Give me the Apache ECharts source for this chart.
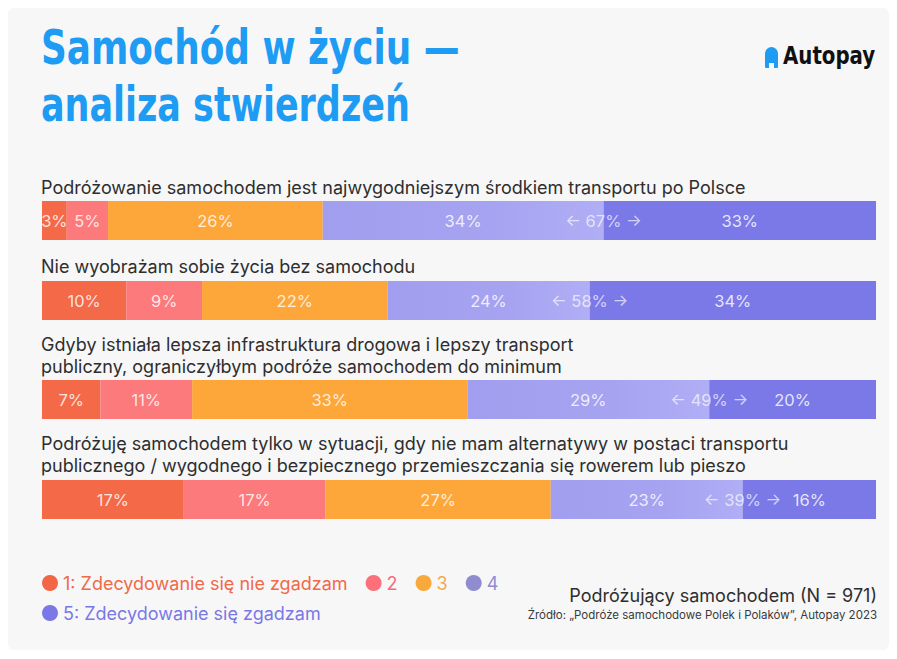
<!DOCTYPE html>
<html>
<head>
<meta charset="utf-8">
<script src="https://cdn.jsdelivr.net/npm/echarts@6/dist/echarts.min.js"></script>
<style>
  html, body { margin: 0; padding: 0; background: #fff; }
  #chart { width: 897px; height: 659px; }
</style>
</head>
<body>
<div id="chart"></div>
<script>
// Samochód w życiu — odpowiedzi na skali 1..5, każdy wiersz to osobna siatka (100% szerokości)
const questions = [
  'Podróżowanie samochodem jest najwygodniejszym środkiem transportu po Polsce',
  'Nie wyobrażam sobie życia bez samochodu',
  'Gdyby istniała lepsza infrastruktura drogowa i lepszy transport\npubliczny, ograniczyłbym podróże samochodem do minimum',
  'Podróżuję samochodem tylko w sytuacji, gdy nie mam alternatywy w postaci transportu\npublicznego / wygodnego i bezpiecznego przemieszczania się rowerem lub pieszo'
]
const levels = ['1: Zdecydowanie się nie zgadzam', '2', '3', '4', '5: Zdecydowanie się zgadzam']
const level1 = [3, 10, 7, 17]
const level2 = [5, 9, 11, 17]
const level3 = [26, 22, 33, 27]
const level4 = [34, 24, 29, 23]
const level5 = [33, 34, 20, 16]
const topTwo = [67, 58, 49, 39]

const values = [level1, level2, level3, level4, level5]
const barColors = ['#f46a49', '#fd7a7c', '#fda63a', '#a4a1f0', '#7b79e8']
const legendDot = ['#f36645', '#fc7179', '#f9a83a', '#8f8dd0', '#7a78e7']
const legendText = ['#f06a47', '#f56c78', '#f0aa4a', '#8e8ccf', '#7a78e6']

const barTops = [201, 281, 380, 480]
const qTops = [177, 256, 334, 433]
const FONT = 'Inter, "Noto Sans", sans-serif'
const NARROW = '"DejaVu Sans Condensed", "DejaVu Sans", sans-serif'

const chart = echarts.init(document.getElementById('chart'), null, { renderer: 'svg' })

const series = []
values.forEach((vals, k) => {
  vals.forEach((v, i) => {
    series.push({
      name: levels[k],
      type: 'bar',
      xAxisIndex: i,
      yAxisIndex: i,
      stack: 'row' + i,
      barCategoryGap: 0,
      data: [v],
      itemStyle: {
        color: k === 3
          ? new echarts.graphic.LinearGradient(0, 0, 1, 0, [
              { offset: 0, color: '#a19eef' },
              { offset: 0.6, color: '#a6a3f1' },
              { offset: 1, color: '#b0aef5' }
            ])
          : barColors[k]
      },
      label: {
        show: true,
        position: 'inside',
        formatter: '{c}%',
        color: 'rgba(255,255,255,0.82)',
        fontSize: 16.5,
        fontFamily: FONT
      },
      emphasis: { disabled: true }
    })
  })
})

// etykieta "← 67% →" na granicy 4/5
topTwo.forEach((t, i) => {
  series.push({
    type: 'scatter',
    xAxisIndex: i,
    yAxisIndex: i,
    symbolSize: 0,
    data: [[level1[i] + level2[i] + level3[i] + level4[i], 0]],
    label: {
      show: true,
      position: 'inside',
      formatter: '← ' + t + '% →',
      color: 'rgba(255,255,255,0.85)',
      fontSize: 16.5,
      fontFamily: FONT
    },
    z: 5,
    silent: true
  })
})

chart.setOption({
  backgroundColor: 'transparent',
  animation: false,
  graphic: [
    { type: 'rect', shape: { x: 8, y: 8, width: 881, height: 642, r: 6 }, style: { fill: '#f7f7f8' }, z: -10 },
    { type: 'rect', shape: { x: 765, y: 47, width: 13, height: 21, r: [7, 7, 1, 1] }, style: { fill: '#1e9bf2' } },
    { type: 'rect', shape: { x: 769, y: 63, width: 5, height: 5 }, style: { fill: '#f7f7f8' } },
    {
      type: 'text', x: 41, y: 23, scaleX: 0.83,
      style: { text: 'Samochód w życiu —', fill: '#1e9bf2', font: 'bold 48px ' + NARROW }
    },
    {
      type: 'text', x: 41, y: 80, scaleX: 0.81,
      style: { text: 'analiza stwierdzeń', fill: '#1e9bf2', font: 'bold 48px ' + NARROW }
    },
    {
      type: 'text', x: 783, y: 43, scaleX: 0.88,
      style: { text: 'Autopay', fill: '#111', font: 'bold 25px ' + NARROW }
    }
  ],
  title: [
    ...questions.map((q, i) => ({
      text: q,
      left: 41, top: qTops[i], padding: 0,
      textStyle: { fontSize: 18, fontWeight: 'normal', fontFamily: FONT, color: '#2e2e2e', lineHeight: 21.5 }
    })),
    {
      text: 'Podróżujący samochodem (N = 971)',
      right: 20, top: 586, padding: 0,
      textStyle: { fontSize: 18, fontWeight: 'normal', fontFamily: FONT, color: '#2e2e2e' }
    },
    {
      text: 'Źródło: „Podróże samochodowe Polek i Polaków”, Autopay 2023',
      right: 20, top: 609, padding: 0,
      textStyle: { fontSize: 11.5, fontWeight: 'normal', fontFamily: FONT, color: '#3a3a3a' }
    }
  ],
  legend: [
    {
      data: levels.slice(0, 4).map((n, k) => ({ name: n, itemStyle: { color: legendDot[k] }, textStyle: { color: legendText[k] } })),
      left: 42, top: 574, padding: 0,
      icon: 'circle', itemWidth: 16, itemHeight: 16, itemGap: 18,
      textStyle: { fontSize: 18, fontFamily: FONT },
      selectedMode: false
    },
    {
      data: [{ name: levels[4], itemStyle: { color: legendDot[4] }, textStyle: { color: legendText[4] } }],
      left: 42, top: 604, padding: 0,
      icon: 'circle', itemWidth: 16, itemHeight: 16,
      textStyle: { fontSize: 18, fontFamily: FONT },
      selectedMode: false
    }
  ],
  grid: barTops.map(t => ({ left: 42, right: 21, top: t, height: 39 })),
  xAxis: barTops.map((t, i) => ({ gridIndex: i, type: 'value', min: 0, max: v => v.max, show: false })),
  yAxis: barTops.map((t, i) => ({ gridIndex: i, type: 'category', data: [questions[i]], show: false })),
  series
})
</script>
</body>
</html>
